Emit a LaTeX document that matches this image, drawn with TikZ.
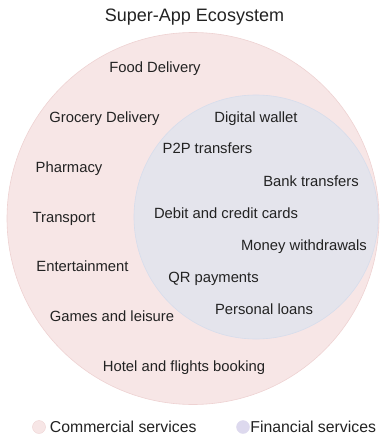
\documentclass[tikz,border=0pt]{standalone}
\usepackage{fontspec}
\setmainfont{Liberation Sans}
\usetikzlibrary{positioning}
\definecolor{mylightpink}{RGB}{247,230,230}
\definecolor{mydarkpink}{RGB}{238,210,210}
\definecolor{mylightgray}{RGB}{228,228,236}
\definecolor{mygrayblue}{RGB}{214,221,236}
\definecolor{mylavender}{RGB}{221,217,238}
\definecolor{mytext}{RGB}{34,34,34}
\newcommand{\sizecommercial}{372pt}
\newcommand{\sizefinancial}{244pt}
\newcommand{\sizedot}{13pt}
\tikzset{
    area/.style={circle, inner sep=0pt, line width=0.6pt},
    commercial/.style={area, draw=mydarkpink, fill=mylightpink, minimum size=\sizecommercial},
    financial/.style={area, draw=mygrayblue, fill=mylightgray, minimum size=\sizefinancial},
    service/.style={anchor=base, inner sep=0pt, text=mytext, font=\fontsize{14.8}{17}\selectfont},
    heading/.style={service, font=\fontsize{18}{21}\selectfont},
    dot/.style={circle, inner sep=0pt, line width=0.4pt, minimum size=\sizedot},
    legend/.style={inner sep=0pt, text=mytext, font=\fontsize{15.8}{18}\selectfont},
}
\begin{document}
\begin{tikzpicture}[x=1pt, y=-1pt]
    \useasboundingbox (0,0) rectangle (380,438);

    \node[heading] (title) at (194.5,22) {Super-App Ecosystem};

    \node[commercial] (commercial-area) at (193,218.5) {};
    \node[financial] (financial-area) at (256,217) {};

    % commercial services
    \node[service] (food) at (155,72.5) {Food Delivery};
    \node[service] (grocery) at (104.5,122.5) {Grocery Delivery};
    \node[service] (pharmacy) at (69,172) {Pharmacy};
    \node[service] (transport) at (64,222.5) {Transport};
    \node[service] (entertainment) at (82.5,271.5) {Entertainment};
    \node[service] (games) at (112,321.5) {Games and leisure};
    \node[service] (hotel) at (184,371.5) {Hotel and flights booking};

    % financial services
    \node[service] (wallet) at (256,122.5) {Digital wallet};
    \node[service] (p2p) at (207.5,154) {P2P transfers};
    \node[service] (bank) at (311,186) {Bank transfers};
    \node[service] (cards) at (226,218) {Debit and credit cards};
    \node[service] (withdrawals) at (304,250) {Money withdrawals};
    \node[service] (qr) at (213.5,282) {QR payments};
    \node[service] (loans) at (264,314) {Personal loans};

    \node[dot, draw=mydarkpink, fill=mylightpink] (dot-commercial) at (39,427) {};
    \node[legend, right=4pt of dot-commercial] (legend-commercial) {Commercial services};
    \node[dot, draw=mylavender, fill=mylavender] (dot-financial) at (243,427) {};
    \node[legend, right=0.5pt of dot-financial] (legend-financial) {Financial services};
\end{tikzpicture}
\end{document}
